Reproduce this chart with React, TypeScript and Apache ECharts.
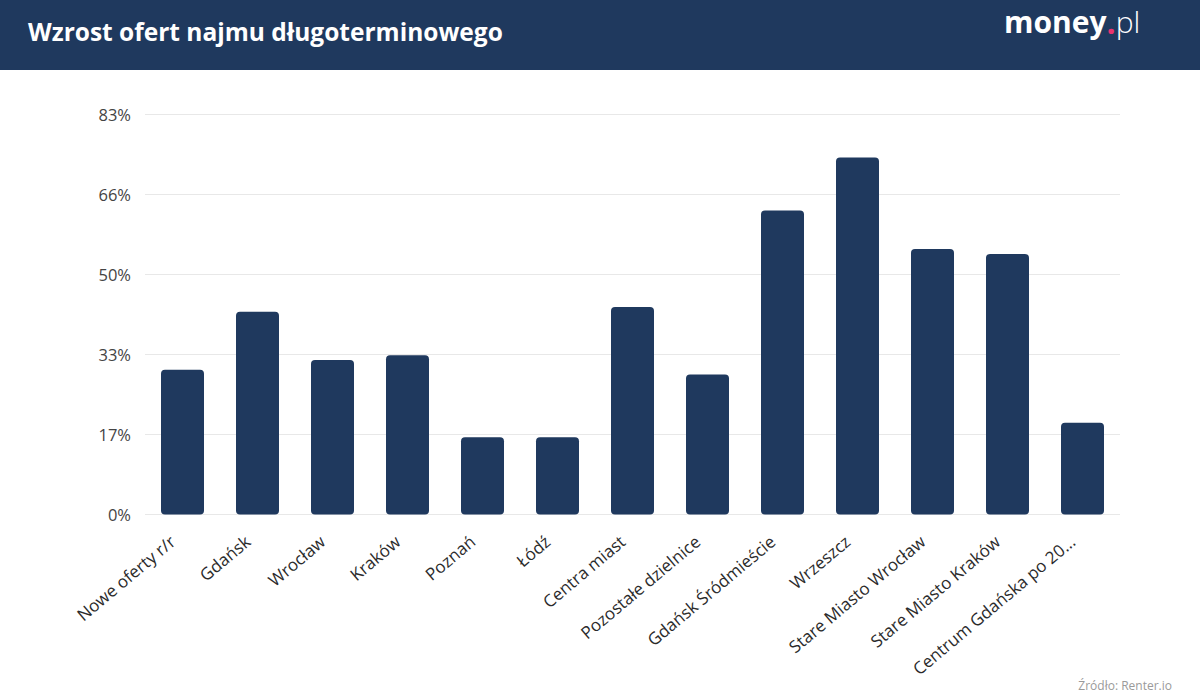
import React, { useEffect, useRef } from "react";
import * as echarts from "echarts";

const categories = [
  "Nowe oferty r/r",
  "Gdańsk",
  "Wrocław",
  "Kraków",
  "Poznań",
  "Łódź",
  "Centra miast",
  "Pozostałe dzielnice",
  "Gdańsk Śródmieście",
  "Wrzeszcz",
  "Stare Miasto Wrocław",
  "Stare Miasto Kraków",
  "Centrum Gdańska po 20...",
];
const values = [30, 42, 32, 33, 16, 16, 43, 29, 63, 74, 55, 54, 19];
const yMax = 83;
const yInterval = 16.6;

const title = "Wzrost ofert najmu długoterminowego";
const source = "Źródło: Renter.io";

const NAVY = "#1f395e";
const FONT = "'Open Sans', 'Noto Sans', sans-serif";

export default function App() {
  const ref = useRef<HTMLDivElement>(null);
  useEffect(() => {
    document.body.style.margin = "0";
    const chart = echarts.init(ref.current!, null, { renderer: "svg" });
    chart.setOption({
      animation: false,
      backgroundColor: "#ffffff",
      textStyle: { fontFamily: FONT },
      grid: { left: 145, right: 80, top: 114, bottom: 185.5, containLabel: false },
      xAxis: {
        type: "category",
        data: categories,
        axisLine: { show: false },
        axisTick: { show: false },
        axisLabel: {
          rotate: 40,
          interval: 0,
          margin: 16,
          padding: [0, 13, 0, 0],
          fontSize: 17,
          color: "#2b2b2b",
          fontFamily: FONT,
        },
      },
      yAxis: {
        type: "value",
        min: 0,
        max: yMax,
        interval: yInterval,
        axisLine: { show: false },
        axisTick: { show: false },
        splitLine: { lineStyle: { color: "#e8e8e8", width: 1 } },
        axisLabel: {
          formatter: (v: number) => Math.round(v) + "%",
          fontSize: 16.5,
          color: "#444444",
          margin: 14,
          fontFamily: FONT,
        },
      },
      series: [
        {
          type: "bar",
          data: values,
          barWidth: 43,
          itemStyle: { color: NAVY, borderRadius: 4 },
        },
      ],
      graphic: [
        {
          type: "rect",
          left: 0,
          top: 0,
          shape: { width: 1200, height: 70 },
          style: { fill: NAVY },
          z: -1,
        },
        {
          type: "text",
          left: 28,
          top: 19,
          style: {
            text: title,
            fill: "#ffffff",
            font: `bold 24.5px ${FONT}`,
          },
        },
        {
          type: "text",
          left: 1004,
          top: 5,
          style: {
            text: "{m|money}{d|.}{p|pl}",
            rich: {
              m: { fill: "#ffffff", font: `bold 30px ${FONT}` },
              d: { fill: "#e8336e", font: `bold 32px ${FONT}` },
              p: { fill: "#ffffff", font: `300 30px ${FONT}` },
            },
          },
        },
        {
          type: "text",
          right: 28,
          bottom: 9,
          style: {
            text: source,
            fill: "#9a9a9a",
            font: `12px ${FONT}`,
          },
        },
      ],
    });
    return () => chart.dispose();
  }, []);
  return <div ref={ref} style={{ width: 1200, height: 700 }} />;
}
